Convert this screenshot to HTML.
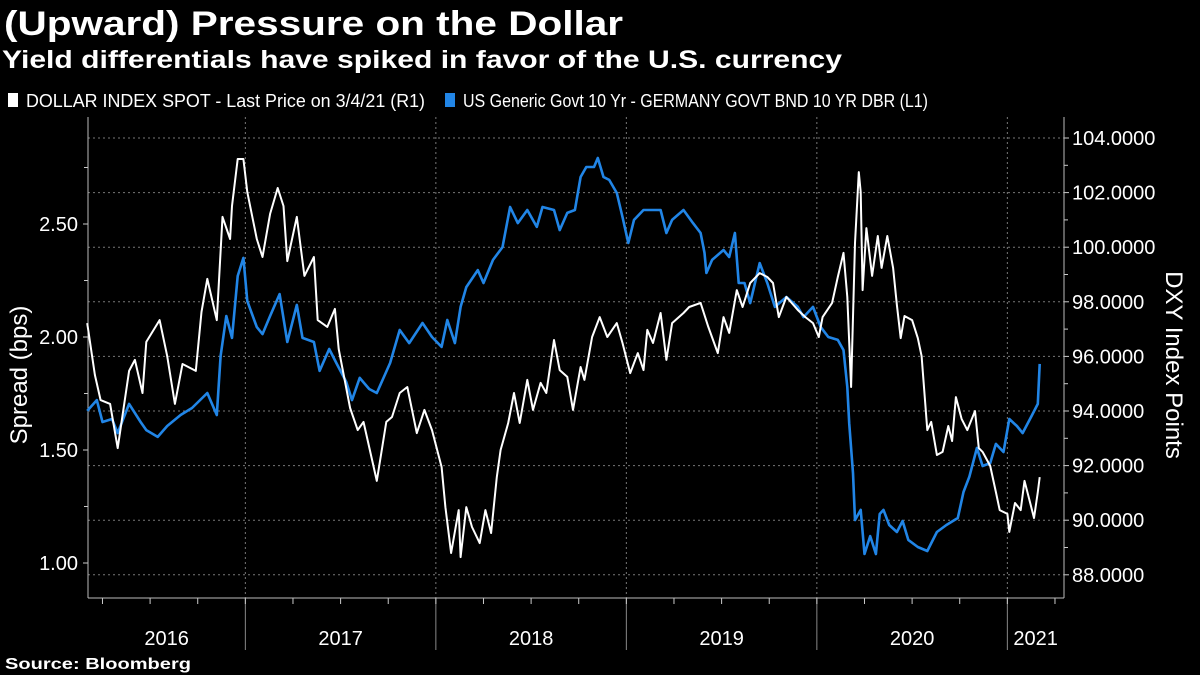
<!DOCTYPE html>
<html><head><meta charset="utf-8"><style>
html,body{margin:0;padding:0;background:#000;}
svg{display:block;font-family:"Liberation Sans",sans-serif;}
</style></head><body>
<svg id="chart" width="1200" height="675" viewBox="0 0 1200 675" xmlns="http://www.w3.org/2000/svg">
<rect x="0" y="0" width="1200" height="675" fill="#000"/>
<text x="4" y="35" fill="#fff" font-size="34" font-weight="bold" textLength="619" lengthAdjust="spacingAndGlyphs">(Upward) Pressure on the Dollar</text>
<text x="2" y="68" fill="#fff" font-size="25" font-weight="bold" textLength="840" lengthAdjust="spacingAndGlyphs">Yield differentials have spiked in favor of the U.S. currency</text>
<g>
<g>
<rect x="8" y="93" width="10" height="14" fill="#fff"/>
<text x="26" y="107" fill="#fff" font-size="18" textLength="399" lengthAdjust="spacingAndGlyphs">DOLLAR INDEX SPOT - Last Price on 3/4/21 (R1)</text>
</g>
<g>
<rect x="445" y="93" width="10" height="14" fill="#2185e6"/>
<text x="463" y="107" fill="#fff" font-size="18" textLength="465" lengthAdjust="spacingAndGlyphs">US Generic Govt 10 Yr - GERMANY GOVT BND 10 YR DBR (L1)</text>
</g>
</g>
<g id="grid"></g>
<g id="axes"></g>
<g id="series"></g>
<text transform="translate(27,375) rotate(-90)" text-anchor="middle" fill="#fff" font-size="24">Spread  (bps)</text>
<text transform="translate(1166,365) rotate(90)" text-anchor="middle" fill="#fff" font-size="24">DXY Index Points</text>
<text x="5" y="669" fill="#fff" font-size="16" font-weight="bold" textLength="186" lengthAdjust="spacingAndGlyphs">Source:  Bloomberg</text>
</svg>
<script>
const dxyDates=[2016.17,2016.21,2016.24,2016.29,2016.33,2016.39,2016.42,2016.46,2016.48,2016.55,2016.59,2016.63,2016.67,2016.74,2016.77,2016.80,2016.85,2016.88,2016.92,2016.93,2016.96,2016.99,2017.01,2017.06,2017.09,2017.13,2017.17,2017.20,2017.22,2017.27,2017.31,2017.36,2017.38,2017.43,2017.47,2017.49,2017.55,2017.59,2017.62,2017.69,2017.74,2017.77,2017.81,2017.85,2017.90,2017.94,2017.98,2018.03,2018.05,2018.08,2018.12,2018.13,2018.16,2018.19,2018.23,2018.26,2018.29,2018.32,2018.34,2018.38,2018.41,2018.44,2018.48,2018.51,2018.55,2018.58,2018.62,2018.65,2018.69,2018.72,2018.76,2018.78,2018.82,2018.86,2018.90,2018.95,2018.98,2019.02,2019.06,2019.09,2019.11,2019.14,2019.18,2019.21,2019.24,2019.30,2019.33,2019.39,2019.43,2019.48,2019.51,2019.54,2019.58,2019.61,2019.65,2019.70,2019.74,2019.77,2019.80,2019.84,2019.90,2019.94,2019.98,2020.01,2020.03,2020.08,2020.11,2020.14,2020.16,2020.18,2020.20,2020.22,2020.23,2020.24,2020.26,2020.29,2020.32,2020.34,2020.37,2020.40,2020.42,2020.44,2020.46,2020.50,2020.53,2020.55,2020.58,2020.60,2020.63,2020.66,2020.69,2020.71,2020.73,2020.76,2020.79,2020.83,2020.85,2020.87,2020.91,2020.94,2020.96,2021.00,2021.01,2021.04,2021.07,2021.09,2021.12,2021.14,2021.16,2021.17];
const dxyValues=[97.22,95.32,94.40,94.26,92.64,95.47,95.87,94.66,96.53,97.33,96.01,94.26,95.72,95.47,97.63,98.84,97.33,101.11,100.30,101.51,103.23,103.23,102.02,100.30,99.64,101.22,102.17,101.51,99.49,101.11,98.95,99.64,97.33,97.08,97.74,96.27,94.11,93.30,93.60,91.44,93.60,93.78,94.66,94.88,93.19,94.04,93.30,91.95,90.48,88.80,90.37,88.65,90.48,89.75,89.16,90.37,89.53,91.58,92.57,93.56,94.66,93.56,95.14,94.04,95.03,94.66,96.60,95.50,95.25,94.04,95.61,95.14,96.71,97.44,96.71,97.22,96.49,95.39,96.12,95.50,96.97,96.49,97.59,95.87,97.22,97.59,97.81,97.96,97.08,96.12,97.44,96.86,98.43,97.81,98.69,99.05,98.91,98.69,97.44,98.18,97.70,97.44,97.22,96.71,97.44,97.96,98.91,99.79,98.18,94.88,100.15,102.75,102.02,98.43,100.70,98.95,100.41,99.24,100.41,99.24,97.88,96.67,97.48,97.33,96.67,96.01,93.30,93.60,92.39,92.50,93.45,92.90,94.51,93.71,93.30,94.00,92.64,92.50,91.99,91.03,90.37,90.23,89.57,90.63,90.37,91.44,90.63,90.08,91.03,91.58];
const spreadDates=[2016.17,2016.22,2016.25,2016.30,2016.33,2016.39,2016.45,2016.48,2016.54,2016.59,2016.66,2016.72,2016.80,2016.85,2016.87,2016.90,2016.93,2016.96,2016.99,2017.01,2017.06,2017.09,2017.13,2017.18,2017.22,2017.27,2017.30,2017.36,2017.39,2017.44,2017.48,2017.53,2017.56,2017.60,2017.65,2017.69,2017.76,2017.81,2017.86,2017.93,2017.98,2018.03,2018.06,2018.10,2018.13,2018.16,2018.22,2018.25,2018.30,2018.35,2018.39,2018.43,2018.48,2018.53,2018.56,2018.62,2018.65,2018.69,2018.73,2018.76,2018.79,2018.83,2018.85,2018.88,2018.91,2018.95,2018.98,2019.01,2019.04,2019.09,2019.12,2019.18,2019.21,2019.24,2019.30,2019.35,2019.39,2019.41,2019.42,2019.45,2019.51,2019.54,2019.57,2019.59,2019.62,2019.65,2019.70,2019.74,2019.78,2019.84,2019.90,2019.93,2019.98,2020.02,2020.06,2020.11,2020.14,2020.16,2020.17,2020.19,2020.20,2020.23,2020.25,2020.28,2020.31,2020.33,2020.35,2020.38,2020.42,2020.45,2020.48,2020.53,2020.58,2020.63,2020.68,2020.74,2020.77,2020.80,2020.84,2020.87,2020.91,2020.94,2020.98,2021.01,2021.05,2021.08,2021.13,2021.16,2021.17];
const spreadValues=[1.673,1.721,1.624,1.637,1.575,1.704,1.624,1.588,1.558,1.606,1.655,1.686,1.752,1.655,1.916,2.093,1.996,2.270,2.350,2.159,2.044,2.013,2.093,2.190,1.978,2.142,1.996,1.978,1.850,1.947,1.881,1.801,1.721,1.819,1.770,1.752,1.885,2.031,1.973,2.062,2.000,1.956,2.075,1.973,2.133,2.221,2.296,2.239,2.341,2.398,2.575,2.504,2.562,2.487,2.575,2.562,2.473,2.549,2.562,2.708,2.752,2.752,2.792,2.708,2.695,2.637,2.531,2.416,2.518,2.562,2.562,2.562,2.460,2.518,2.562,2.504,2.460,2.372,2.283,2.341,2.385,2.354,2.460,2.239,2.239,2.150,2.327,2.239,2.133,2.177,2.133,2.088,2.133,2.044,2.000,1.987,1.942,1.779,1.619,1.398,1.190,1.235,1.040,1.119,1.040,1.217,1.235,1.168,1.137,1.186,1.102,1.071,1.053,1.137,1.168,1.199,1.314,1.381,1.509,1.429,1.442,1.527,1.491,1.637,1.606,1.575,1.655,1.704,1.881];
const leftTicks=["1.00","1.50","2.00","2.50"];
const rightTicks=["88.0000","90.0000","92.0000","94.0000","96.0000","98.0000","100.0000","102.0000","104.0000"];
const yearLabels=["2016","2017","2018","2019","2020","2021"];

const NS="http://www.w3.org/2000/svg";
const PL=88,PR=1064,PT=117,PB=598;
const xScale=t=>PL+(t-2016.174)*190.5;
const yLeft=s=>563-(s-1)*226;
const yRight=v=>138+(104-v)*27.3;
function mk(tag,attrs,parent){const e=document.createElementNS(NS,tag);for(const k in attrs)e.setAttribute(k,attrs[k]);parent.appendChild(e);return e;}
const grid=document.getElementById('grid'),axes=document.getElementById('axes'),series=document.getElementById('series');

rightTicks.forEach(lbl=>{const v=parseFloat(lbl);const y=yRight(v);
 const g=mk('line',{x1:PL,x2:PR,y1:y,y2:y,stroke:'#777','stroke-width':1,'stroke-dasharray':'2,3'},grid);
 
 
 const t=mk('line',{x1:PR,x2:PR+5,y1:y,y2:y,stroke:'#ccc'},axes);
 
 
 const tx=mk('text',{x:PR+8,y:y+7,fill:'#fff','font-size':20},axes);tx.textContent=lbl;
 
 
 if(v<104){const m=mk('line',{x1:PR,x2:PR+4,y1:yRight(v+1),y2:yRight(v+1),stroke:'#ccc'},axes);
 
 }
});
leftTicks.forEach(lbl=>{const s=parseFloat(lbl);const y=yLeft(s);
 const t=mk('line',{x1:PL-5,x2:PL,y1:y,y2:y,stroke:'#ccc'},axes);
 
 
 const tx=mk('text',{x:PL-10,y:y+7,fill:'#fff','font-size':20,'text-anchor':'end'},axes);tx.textContent=lbl;
 
 
 const m=mk('line',{x1:PL-4,x2:PL,y1:yLeft(s+0.25),y2:yLeft(s+0.25),stroke:'#ccc'},axes);
 
 
});
yearLabels.forEach(lbl=>{const yr=parseInt(lbl);
 const xs=xScale(yr);
 if(xs>PL){
 const g=mk('line',{x1:xs,x2:xs,y1:PT,y2:PB,stroke:'#777','stroke-dasharray':'2,3'},grid);
 
 
 const sp=mk('line',{x1:xs,x2:xs,y1:PB,y2:650,stroke:'#888'},axes);
 
 }
 for(let q=0;q<4;q++){const xq=xScale(yr+q*0.25);if(xq>PL+2&&xq<PR-2){
 const tk=mk('line',{x1:xq,x2:xq,y1:PB,y2:PB+6,stroke:'#ccc'},axes);
 
 }}
 const a=Math.max(xs,PL),b=Math.min(xScale(yr+1),PR);
 const tx=mk('text',{x:(a+b)/2,y:645,fill:'#fff','font-size':20,'text-anchor':'middle'},axes);tx.textContent=lbl;
 
 
});
[[PL,PT,PL,PB],[PL,PB,PR,PB],[PR,PT,PR,PB]].forEach((c,i)=>{
 const l=mk('line',{x1:c[0],y1:c[1],x2:c[2],y2:c[3],stroke:'#bbb','stroke-width':1},axes);
 
 
});
const dWhite=dxyDates.map((t,i)=>(i?'L':'M')+xScale(t).toFixed(1)+','+yRight(dxyValues[i]).toFixed(1)).join('');
const dBlue=spreadDates.map((t,i)=>(i?'L':'M')+xScale(t).toFixed(1)+','+yLeft(spreadValues[i]).toFixed(1)).join('');
const pb=mk('path',{d:dBlue,fill:'none',stroke:'#2185e6','stroke-width':2.6,'stroke-linejoin':'round'},series);


const pw=mk('path',{d:dWhite,fill:'none',stroke:'#fff','stroke-width':2,'stroke-linejoin':'round'},series);


</script>
</body></html>
